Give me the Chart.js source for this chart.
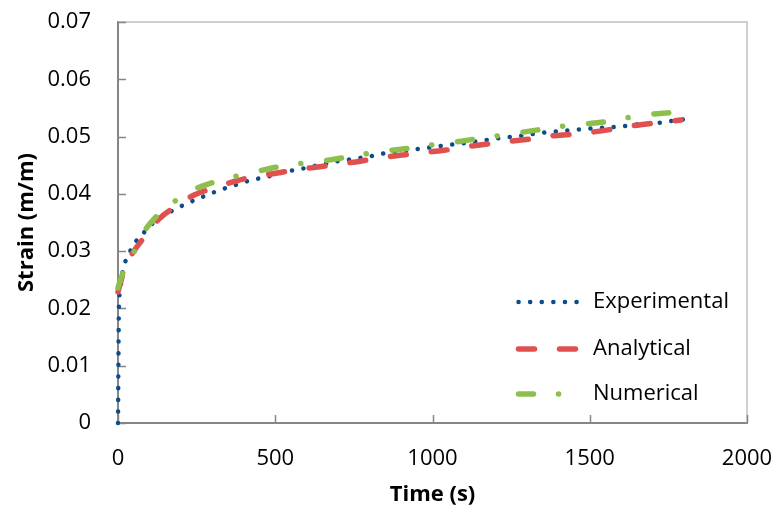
<!DOCTYPE html>
<html>
<head>
<meta charset="utf-8">
<script src="https://cdn.jsdelivr.net/npm/chart.js@4/dist/chart.umd.min.js"></script>
<style>
html,body{margin:0;padding:0;background:#fff;}
#wrap{width:779px;height:514px;}
</style>
</head>
<body>
<div id="wrap"><canvas id="c" width="779" height="514"></canvas></div>
<script>
// ---- data ----
const expTime   = [0, 3, 8, 12, 20, 35, 54, 77, 105, 168, 203, 239, 274, 311, 347, 388, 423, 458, 496, 534, 569, 610, 652, 687, 725, 760, 798, 839, 876, 916, 993, 1030, 1107, 1146, 1183, 1224, 1261, 1300, 1339, 1377, 1415, 1454, 1530, 1606, 1644, 1718, 1758, 1800];
const expStrain = [0, 0.0205, 0.0234, 0.0255, 0.0276, 0.0296, 0.0315, 0.0329, 0.0346, 0.0369, 0.0379, 0.0388, 0.0396, 0.0404, 0.0411, 0.0418, 0.0424, 0.0428, 0.0433, 0.0439, 0.0442, 0.0447, 0.0452, 0.0456, 0.0459, 0.0462, 0.0465, 0.0470, 0.0473, 0.0476, 0.0481, 0.0484, 0.0489, 0.0492, 0.0495, 0.0498, 0.0500, 0.0503, 0.0506, 0.0508, 0.0510, 0.0512, 0.0515, 0.0518, 0.0521, 0.0524, 0.0527, 0.0530];

const anaTime   = [0, 22, 47, 89, 130, 180, 242, 302, 372, 432, 502, 569, 636, 703, 770, 836, 906, 970, 1037, 1103, 1173, 1237, 1313, 1377, 1444, 1510, 1574, 1638, 1714, 1790];
const anaStrain = [0.0229, 0.0271, 0.0297, 0.0328, 0.0356, 0.0377, 0.0398, 0.0410, 0.0422, 0.0430, 0.0436, 0.0442, 0.0447, 0.0452, 0.0457, 0.0463, 0.0468, 0.0472, 0.0476, 0.0482, 0.0487, 0.0491, 0.0496, 0.0501, 0.0504, 0.0508, 0.0513, 0.0519, 0.0524, 0.0529];

const numTime   = [0, 13, 44, 76, 121, 168, 232, 302, 362, 432, 508, 569, 645, 716, 779, 855, 928, 992, 1065, 1141, 1205, 1278, 1351, 1412, 1488, 1564, 1621, 1698, 1774, 1803];
const numStrain = [0.0236, 0.0258, 0.0290, 0.0328, 0.0360, 0.0382, 0.0405, 0.0420, 0.0429, 0.0438, 0.0447, 0.0452, 0.0457, 0.0463, 0.0469, 0.0475, 0.0480, 0.0485, 0.0490, 0.0496, 0.0501, 0.0507, 0.0513, 0.0518, 0.0522, 0.0527, 0.0533, 0.0539, 0.0543, 0.0546];

const seriesNames = ['Experimental', 'Analytical', 'Numerical'];
const xTickLabels = ['0', '500', '1000', '1500', '2000'];
const yTickLabels = ['0', '0.01', '0.02', '0.03', '0.04', '0.05', '0.06', '0.07'];
const xTitle = 'Time (s)';
const yTitle = 'Strain (m/m)';

// ---- build ----
const toPts = (xs, ys) => xs.map((x, i) => ({x: x, y: ys[i]}));
const FONT = "'Open Sans', 'Noto Sans', sans-serif";
const AXIS = '#868686';

const baseDs = {
  showLine: true, pointRadius: 0, pointHoverRadius: 0, fill: false,
  borderCapStyle: 'round', borderJoinStyle: 'round',
  cubicInterpolationMode: 'monotone', clip: false
};

const datasets = [
  Object.assign({}, baseDs, {label: seriesNames[0], data: toPts(expTime, expStrain),
    borderColor: '#0b4c8c', borderWidth: 4.5, borderDash: [0.1, 11.5]}),
  Object.assign({}, baseDs, {label: seriesNames[1], data: toPts(anaTime, anaStrain),
    borderColor: '#e0504f', borderWidth: 5.5, borderDash: [16, 25]}),
  Object.assign({}, baseDs, {label: seriesNames[2], data: toPts(numTime, numStrain),
    borderColor: '#8dbf4c', borderWidth: 5.5, borderDash: [15, 25, 0.1, 26]})
];
datasets[0].order = 3; datasets[1].order = 2; datasets[2].order = 1;

const frame = {
  id: 'frame',
  beforeDatasetsDraw(chart) {
    const {ctx, chartArea: a, scales} = chart;
    ctx.save();
    ctx.strokeStyle = '#c0c0c0';
    ctx.lineWidth = 1.5;
    ctx.beginPath();
    ctx.moveTo(a.left, a.top); ctx.lineTo(a.right, a.top); ctx.lineTo(a.right, a.bottom);
    ctx.stroke();
    ctx.strokeStyle = AXIS;
    ctx.lineWidth = 1.5;
    ctx.beginPath();
    scales.x.ticks.forEach(t => {
      const px = Math.round(scales.x.getPixelForValue(t.value)) + 0.5;
      ctx.moveTo(px, a.bottom); ctx.lineTo(px, a.bottom - 8);
    });
    scales.y.ticks.forEach(t => {
      const py = Math.round(scales.y.getPixelForValue(t.value)) + 0.5;
      ctx.moveTo(a.left, py); ctx.lineTo(a.left + 8, py);
    });
    ctx.stroke();
    ctx.restore();
  },
  afterDraw(chart) {
    const {ctx} = chart;
    const rows = [302, 349, 394];
    ctx.save();
    chart.data.datasets.forEach((ds, i) => {
      const y = rows[i];
      ctx.strokeStyle = ds.borderColor;
      ctx.lineWidth = ds.borderWidth;
      ctx.lineCap = 'round';
      ctx.setLineDash(ds.borderDash);
      ctx.beginPath();
      ctx.moveTo(518.5, y); ctx.lineTo(584, y);
      ctx.stroke();
      ctx.setLineDash([]);
      ctx.fillStyle = '#000';
      ctx.font = "22px " + FONT;
      ctx.textBaseline = 'middle';
      ctx.textAlign = 'left';
      ctx.fillText(ds.label, 593, y);
    });
    ctx.restore();
  }
};

new Chart(document.getElementById('c'), {
  type: 'scatter',
  data: {datasets: datasets},
  plugins: [frame],
  options: {
    responsive: false,
    animation: false,
    devicePixelRatio: 1,
    layout: {padding: {left: 0, top: 22, right: 32, bottom: 0}},
    plugins: {legend: {display: false}, tooltip: {enabled: false}},
    scales: {
      x: {
        type: 'linear', min: 0, max: 2000,
        ticks: {stepSize: 500, padding: 0, color: '#000', font: {family: FONT, size: 22},
          maxRotation: 0, callback: (v, i) => xTickLabels[i]},
        grid: {display: true, drawOnChartArea: false, drawTicks: true, tickLength: 23, tickColor: 'rgba(0,0,0,0)'},
        border: {display: true, color: AXIS, width: 2},
        title: {display: true, text: xTitle, color: '#000', font: {family: FONT, size: 22, weight: 'bold'}, padding: {top: 0, bottom: 6}},
        afterFit: s => { s.height = 91; }
      },
      y: {
        type: 'linear', min: 0, max: 0.07,
        ticks: {stepSize: 0.01, padding: 0, color: '#000', font: {family: FONT, size: 22},
          callback: (v, i) => yTickLabels[i]},
        grid: {display: true, drawOnChartArea: false, drawTicks: true, tickLength: 27, tickColor: 'rgba(0,0,0,0)'},
        border: {display: true, color: AXIS, width: 2},
        title: {display: true, text: yTitle, color: '#000', font: {family: FONT, size: 22, weight: 'bold'}, padding: {top: 14, bottom: 0}},
        afterFit: s => { s.width = 118; }
      }
    }
  }
});
</script>
</body>
</html>
